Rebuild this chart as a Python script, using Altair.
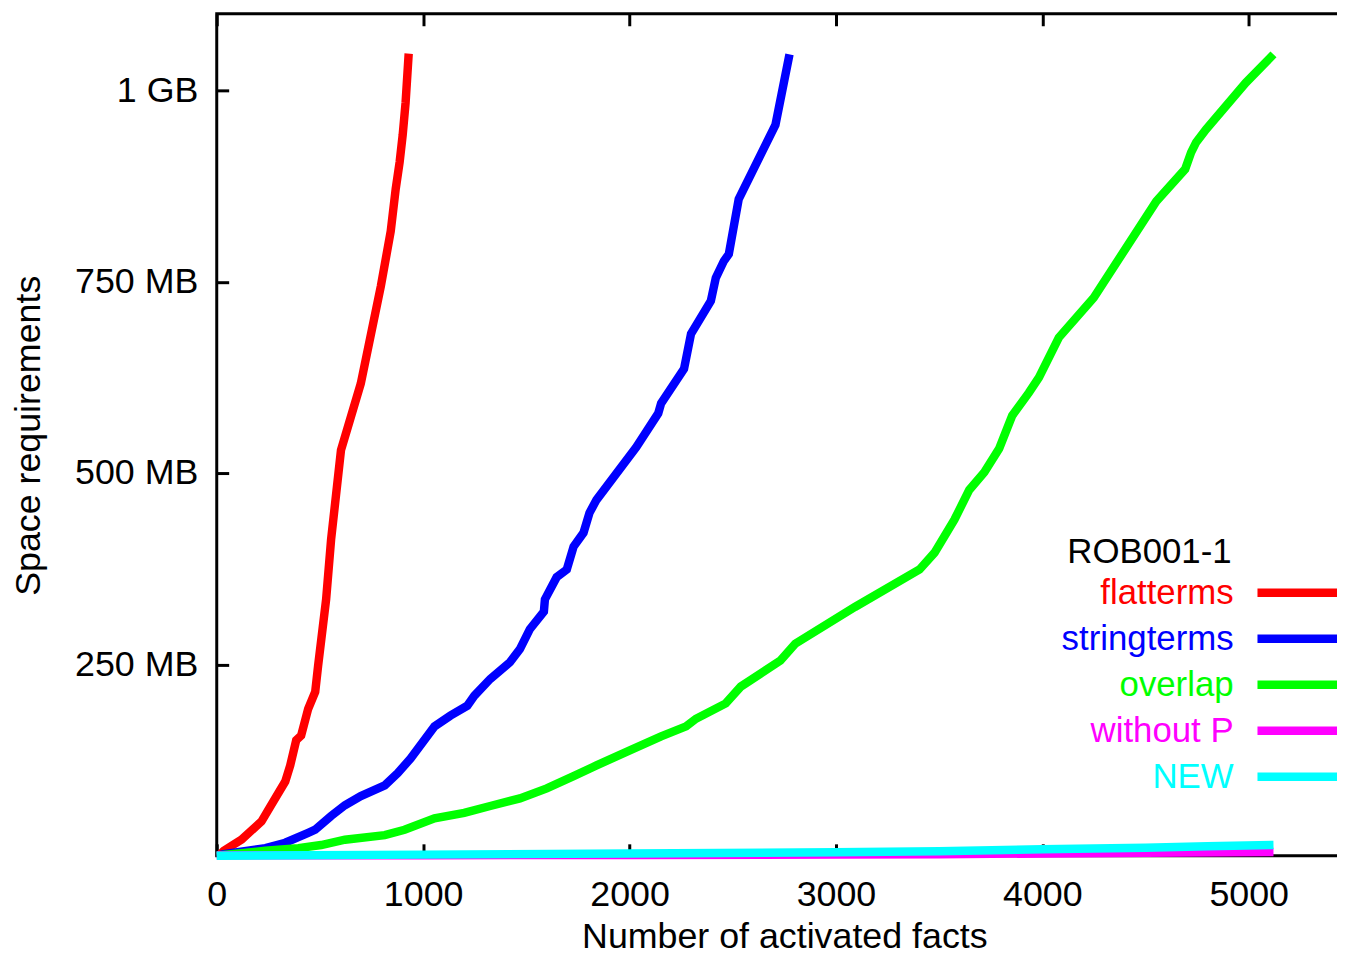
import altair as alt
import pandas as pd

# ---- data ----
series = ["flatterms", "stringterms", "overlap", "without P", "NEW"]
colors = ["#ff0000", "#0000ff", "#00ff00", "#ff00ff", "#00ffff"]

flat_x = [10, 34, 120, 217, 250, 332, 356, 385, 409, 443, 477, 491, 530, 554, 602, 645, 698, 795, 843, 867, 886, 901, 915, 930]
flat_y = [0, 6.5, 21, 45, 60, 97, 118, 151, 157, 192, 214, 248, 335, 413, 530, 569, 617, 744, 816, 871, 906, 942, 984, 1048]

string_x = [0, 34, 236, 332, 443, 477, 554, 621, 698, 814, 877, 939, 1055, 1132, 1214, 1248, 1325, 1421, 1469, 1517,
            1585, 1590, 1647, 1696, 1729, 1777, 1806, 1840, 2033, 2139, 2153, 2264, 2298, 2394, 2418, 2457, 2481, 2529, 2707, 2775]
string_y = [0, 2, 10, 17, 30, 34, 52, 66, 78, 92, 108, 127, 169, 183, 196, 209, 231, 253, 270, 296,
            319, 335, 364, 374, 404, 422, 448, 465, 534, 578, 591, 636, 682, 725, 755, 777, 786, 858, 955, 1047]

overlap_x = [0, 34, 236, 395, 506, 621, 814, 910, 1055, 1199, 1325, 1469, 1599, 1729, 1840, 2004, 2153, 2274, 2322, 2466,
             2539, 2731, 2803, 3092, 3405, 3478, 3574, 3646, 3719, 3791, 3854, 3935, 3984, 4080, 4249, 4552, 4692, 4721, 4745, 4793,
             4986, 5120]
overlap_y = [0, 1, 6.5, 10, 14, 21, 27, 34, 49, 56, 65, 75, 88, 104, 118, 138, 156, 169, 179, 199,
             221, 255, 277, 325, 374, 396, 439, 478, 501, 532, 575, 605, 625, 677, 729, 855, 897, 919, 932, 949,
             1010, 1047]

withoutp_x = [0, 1000, 2000, 3000, 3500, 4000, 4500, 5120]
withoutp_y = [0.5, 0.7, 1, 1.5, 2, 3, 3.8, 5]

new_x = [0, 1000, 2000, 3000, 3500, 4000, 4500, 4800, 5120]
new_y = [0, 1.5, 3, 4.5, 6, 8.5, 10.5, 12.5, 14]

x_ticks = [0, 1000, 2000, 3000, 4000, 5000]
y_ticks = [250, 500, 750, 1000]

legend_title = "ROB001-1"
x_title = "Number of activated facts"
y_title = "Space requirements"

rows = []
for name, xs, ys in zip(series,
                        [flat_x, string_x, overlap_x, withoutp_x, new_x],
                        [flat_y, string_y, overlap_y, withoutp_y, new_y]):
    for x, y in zip(xs, ys):
        rows.append({"series": name, "facts": x, "mb": y})
df = pd.DataFrame(rows)

FONT = "Liberation Sans"
FS = 36
LFS = 35
xscale = alt.Scale(domain=[0, 5500], nice=False, zero=False)
yscale = alt.Scale(domain=[0, 1100], nice=False)

legend = alt.Legend(
    orient="none", legendX=856, legendY=524,
    title=legend_title, titleFont=FONT, titleFontSize=LFS, titleFontWeight="normal",
    titleColor="black", titleAnchor="start", titleAlign="right", titleBaseline="top",
    titlePadding={"expr": "-3.5"}, titleLimit=500,
    symbolType="M-2,0L2,0", symbolSize=2025, symbolStrokeWidth=8.5, symbolOffset=44,
    symbolOpacity=1,
    labelFont=FONT, labelFontSize=LFS, labelAlign="right", labelOffset={"expr": "-96"}, labelLimit=500,
    labelBaseline="middle", labelColor={"expr": "scale('color', datum.value)"},
    rowPadding=1.25, padding=0, offset=0,
)

color = alt.Color("series:N", scale=alt.Scale(domain=series, range=colors), sort=series, legend=legend)

main_x_axis = alt.Axis(
    orient="bottom", values=x_ticks, format="d", domain=False, ticks=False, tickSize=0, grid=False,
    labelPadding=50, labelBaseline="alphabetic", labelFont=FONT, labelFontSize=FS,
    labelColor="black", labelFlush=False, labelOverlap=False,
    title=x_title, titleX=571, titleY=92, titleBaseline="alphabetic", titleFont=FONT,
    titleFontSize=FS, titleFontWeight="normal", titleColor="black",
)
main_y_axis = alt.Axis(
    orient="left", values=y_ticks, domain=False, ticks=False, tickSize=0, grid=False,
    labelExpr="datum.value == 1000 ? '1 GB' : datum.value + ' MB'",
    labelPadding=19, labelAlign="right", labelBaseline="middle", labelFont=FONT,
    labelFontSize=FS, labelColor="black", labelOverlap=False, labelFlush=False,
    title=y_title, titleX=-178, titleY=424, titleBaseline="alphabetic", titleAlign="center",
    titleAngle=270, titleFont=FONT, titleFontSize=FS, titleFontWeight="normal", titleColor="black",
)

layers = []
for i, s in enumerate(series):
    layers.append(
        alt.Chart(df).transform_filter(alt.datum.series == s)
        .mark_line(strokeWidth=8.5)
        .encode(
            x=alt.X("facts:Q", scale=xscale, axis=main_x_axis if i == 0 else None),
            y=alt.Y("mb:Q", scale=yscale, axis=main_y_axis if i == 0 else None),
            color=color,
        )
    )

tick_common = dict(domain=False, labels=False, title=None, grid=False, ticks=True,
                   tickSize=12, tickWidth=3, tickColor="black", offset={"expr": "-12"})

ticks_bl = alt.Chart(df).mark_line(strokeOpacity=0).encode(
    x=alt.X("facts:Q", scale=xscale, axis=alt.Axis(orient="bottom", values=x_ticks, **tick_common)),
    y=alt.Y("mb:Q", scale=yscale, axis=alt.Axis(orient="left", values=y_ticks, **tick_common)),
    detail="series:N",
)
ticks_top = alt.Chart(df).mark_line(strokeOpacity=0).encode(
    x=alt.X("facts:Q", scale=xscale, axis=alt.Axis(orient="top", values=x_ticks, **tick_common)),
    y=alt.Y("mb:Q", scale=yscale, axis=None),
    detail="series:N",
)

chart = (
    alt.layer(ticks_bl, ticks_top, *layers)
    .resolve_axis(x="independent", y="independent")
    .properties(
        width=1142, height=847,
        background="white",
        autosize=alt.AutoSizeParams(type="none"),
        padding={"left": 210, "top": 3, "right": -15, "bottom": 99},
    )
    .configure_view(stroke="black", strokeWidth=3)
)

chart.save("out.html", embed_options={"renderer": "svg", "actions": False})
